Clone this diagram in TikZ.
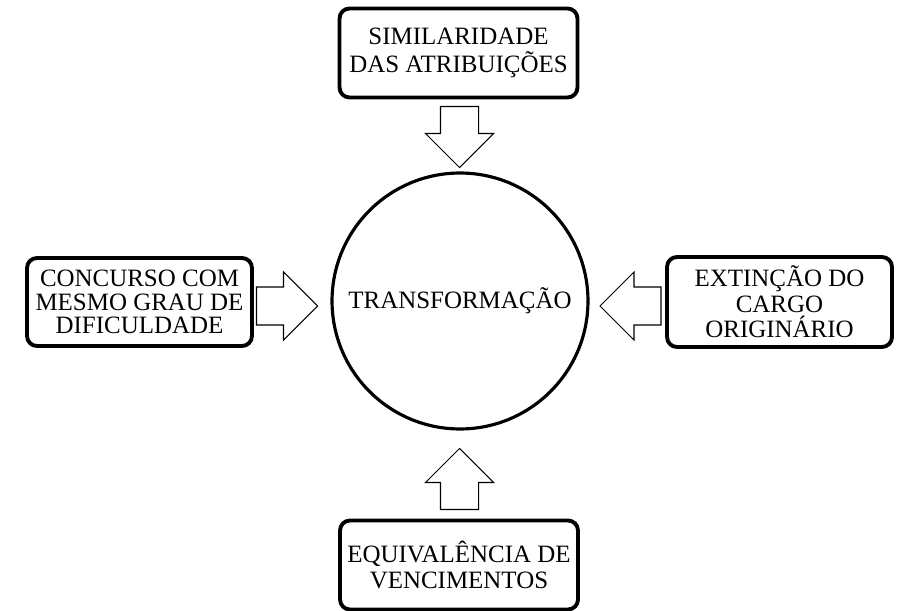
\documentclass[tikz,border=0pt]{standalone}
\usepackage{fontspec}
\setmainfont{Liberation Serif}
\usetikzlibrary{shapes.arrows,positioning}

\tikzset{
  infobox/.style={draw,line width=2.2pt,rounded corners=0.2cm,align=center,inner sep=0pt,minimum width=4.76cm,minimum height=1.78cm},
  blockarrow/.style={draw,line width=0.6pt,single arrow,single arrow head extend=0.3cm,inner xsep=0pt,inner ysep=0.37cm,minimum height=1.22cm}
}

\begin{document}
\begin{tikzpicture}[x=0.02cm,y=-0.02cm,every node/.style={font=\fontsize{14.2}{15}\selectfont}]
  \useasboundingbox (0,0) rectangle (899,611);

  \node[draw,circle,line width=1.8pt,minimum size=5.12cm,inner sep=0pt] (transf) at (460,301) {TRANSFORMAÇÃO};

  \node[infobox,font=\fontsize{14.2}{16}\selectfont] (simil) at (458.5,53) {SIMILARIDADE\\DAS ATRIBUIÇÕES};
  \node[infobox,minimum width=4.5cm,minimum height=1.76cm,font=\fontsize{14.2}{13.4}\selectfont] (concurso) at (139.5,302) {CONCURSO COM\\MESMO GRAU DE\\DIFICULDADE};
  \node[infobox,minimum width=4.5cm,minimum height=1.8cm,font=\fontsize{14.2}{14.6}\selectfont] (extincao) at (779.5,302) {EXTINÇÃO DO\\CARGO\\ORIGINÁRIO};
  \node[infobox,font=\fontsize{14.2}{15.2}\selectfont] (equiv) at (459,565) {EQUIVALÊNCIA DE\\VENCIMENTOS};

  % setas de bloco
  \node[blockarrow,rotate=-90] (asimil) at (459.5,127.5) {};
  \node[blockarrow] (aconcurso) at (277.5,306) {};
  \node[blockarrow,rotate=180] (aextincao) at (640,306) {};
  \node[blockarrow,rotate=90] (aequiv) at (459.5,488.5) {};
\end{tikzpicture}
\end{document}
